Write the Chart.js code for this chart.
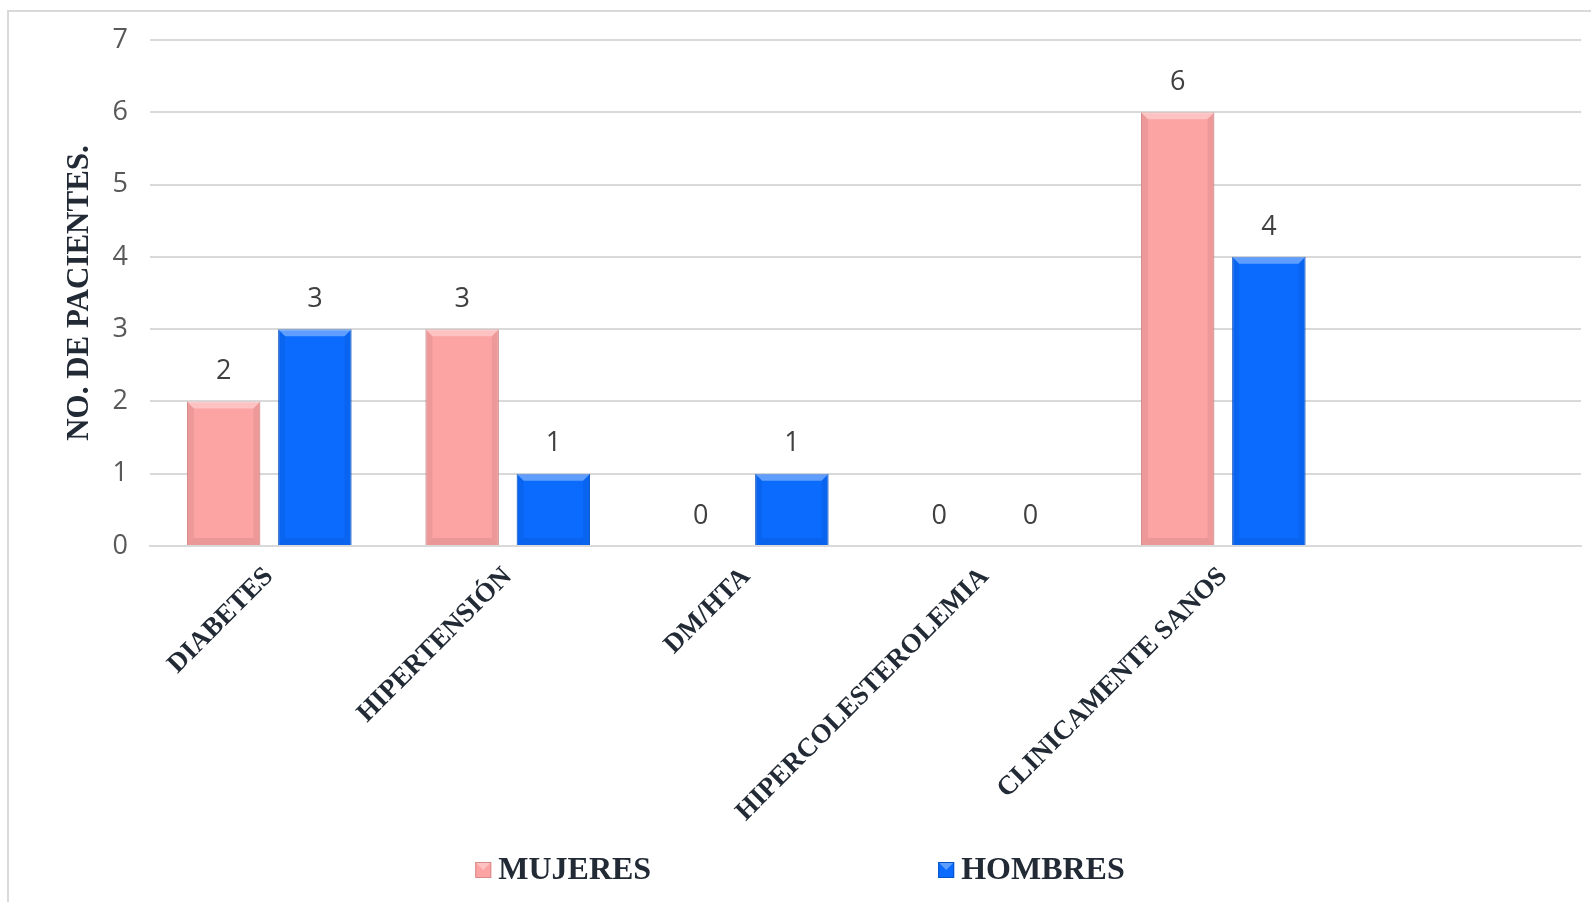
<!DOCTYPE html>
<html>
<head>
<meta charset="utf-8">
<script src="https://cdn.jsdelivr.net/npm/chart.js@4"></script>
<style>
  html, body { margin: 0; padding: 0; background: #fff; overflow: hidden; }
  #frame { position: absolute; left: 7px; top: 10px; width: 1600px; height: 900px;
           border-left: 2px solid #d9d9d9; border-top: 2px solid #d9d9d9; }
  #wrap { position: absolute; left: 0; top: 0; width: 1591px; height: 902px; }
</style>
</head>
<body>
<div id="frame"></div>
<div id="wrap"><canvas id="chart"></canvas></div>
<script>
// chart values
const categories = ["DIABETES", "HIPERTENSIÓN", "DM/HTA", "HIPERCOLESTEROLEMIA", "CLINICAMENTE SANOS", ""];
const mujeres = [2, 3, 0, 0, 6, null];
const hombres = [3, 1, 1, 0, 4, null];
const seriesNames = ["MUJERES", "HOMBRES"];
const yMin = 0, yMax = 7, yStep = 1;
const yTitle = "NO. DE PACIENTES.";

const pink = "#FCA3A3";
const blue = "#0A6BFE";
const dark = "#222A35";

Chart.defaults.maintainAspectRatio = false;

// little bevel on each bar, like the office 3D style
const bevelPlugin = {
    id: "bevel",
    afterDatasetsDraw(chart) {
        const ctx = chart.ctx;
        chart.data.datasets.forEach((ds, i) => {
            chart.getDatasetMeta(i).data.forEach((bar) => {
                const h = bar.base - bar.y;
                if (!(h > 1)) return;
                const l = bar.x - bar.width / 2, r = bar.x + bar.width / 2;
                const t = bar.y, b = bar.base, e = Math.min(7, h / 2);
                ctx.save();
                // top light
                ctx.fillStyle = "rgba(255,255,255,0.35)";
                ctx.beginPath();
                ctx.moveTo(l, t); ctx.lineTo(r, t); ctx.lineTo(r - e, t + e); ctx.lineTo(l + e, t + e);
                ctx.closePath(); ctx.fill();
                // bottom dark
                ctx.fillStyle = "rgba(0,0,0,0.07)";
                ctx.beginPath();
                ctx.moveTo(l, b); ctx.lineTo(r, b); ctx.lineTo(r - e, b - e); ctx.lineTo(l + e, b - e);
                ctx.closePath(); ctx.fill();
                // sides
                ctx.fillStyle = "rgba(0,0,0,0.06)";
                ctx.beginPath();
                ctx.moveTo(l, t); ctx.lineTo(l + e, t + e); ctx.lineTo(l + e, b - e); ctx.lineTo(l, b);
                ctx.closePath(); ctx.fill();
                ctx.beginPath();
                ctx.moveTo(r, t); ctx.lineTo(r - e, t + e); ctx.lineTo(r - e, b - e); ctx.lineTo(r, b);
                ctx.closePath(); ctx.fill();
                ctx.restore();
            });
        });
    }
};

// value labels above the bars
const valuePlugin = {
    id: "values",
    afterDatasetsDraw(chart) {
        const ctx = chart.ctx;
        ctx.save();
        ctx.font = "27px 'Open Sans'";
        ctx.fillStyle = "#404040";
        ctx.textAlign = "center";
        ctx.textBaseline = "middle";
        chart.data.datasets.forEach((ds, i) => {
            chart.getDatasetMeta(i).data.forEach((bar, j) => {
                const v = ds.data[j];
                if (v === null || v === undefined) return;
                ctx.fillText(String(v), bar.x, bar.y - 30);
            });
        });
        ctx.restore();
    }
};

// legend drawn by hand, the two items sit far apart
const legendPlugin = {
    id: "farLegend",
    afterDraw(chart) {
        const ctx = chart.ctx;
        const box = 16, gapText = 7, gapItems = 287;
        const y = 870;
        ctx.save();
        ctx.font = "bold 32px 'Liberation Serif'";
        const widths = chart.data.datasets.map((ds) => box + gapText + ctx.measureText(ds.label).width);
        const total = widths[0] + gapItems + widths[1];
        let x = 800 - total / 2;
        chart.data.datasets.forEach((ds, i) => {
            ctx.fillStyle = ds.backgroundColor;
            ctx.fillRect(x, y - box / 2, box, box);
            ctx.fillStyle = "rgba(255,255,255,0.35)";
            ctx.beginPath();
            ctx.moveTo(x, y - box / 2); ctx.lineTo(x + box, y - box / 2);
            ctx.lineTo(x + box / 2, y); ctx.closePath(); ctx.fill();
            ctx.strokeStyle = ds.borderColor;
            ctx.lineWidth = 1;
            ctx.strokeRect(x + 0.5, y - box / 2 + 0.5, box - 1, box - 1);
            ctx.fillStyle = dark;
            ctx.textAlign = "left";
            ctx.textBaseline = "middle";
            ctx.fillText(ds.label, x + box + gapText, y + 1);
            x += widths[i] + gapItems;
        });
        ctx.restore();
    }
};

new Chart(document.getElementById("chart").getContext("2d"), {
    type: "bar",
    data: {
        labels: categories,
        datasets: [
            {
                label: seriesNames[0],
                data: mujeres,
                backgroundColor: pink,
                borderColor: "#D98A8A",
                borderWidth: 1,
                categoryPercentage: 0.765,
                barPercentage: 0.805,
            },
            {
                label: seriesNames[1],
                data: hombres,
                backgroundColor: blue,
                borderColor: "#0552C9",
                borderWidth: 1,
                categoryPercentage: 0.765,
                barPercentage: 0.805,
            },
        ],
    },
    options: {
        responsive: true,
        animation: false,
        layout: { padding: { top: 40, left: 0, right: 10, bottom: 0 } },
        plugins: {
            legend: { display: false },
            tooltip: { enabled: false },
        },
        scales: {
            x: {
                grid: { display: false, drawTicks: false },
                border: { display: true, color: "#d9d9d9", width: 2 },
                ticks: {
                    color: dark,
                    font: { family: "'Liberation Serif'", size: 27, weight: "bold" },
                    maxRotation: 45,
                    minRotation: 45,
                    autoSkip: false,
                    padding: 15,
                },
                afterFit(scale) { scale.height = 356; },
            },
            y: {
                min: yMin,
                max: yMax,
                grid: { color: "#d9d9d9", lineWidth: 2, drawTicks: false },
                border: { display: false },
                ticks: {
                    stepSize: yStep,
                    color: "#595959",
                    font: { family: "'Open Sans'", size: 27 },
                    padding: 22,
                },
                title: {
                    display: true,
                    text: yTitle,
                    color: dark,
                    font: { family: "'Liberation Serif'", size: 31, weight: "bold" },
                    padding: { top: 61, bottom: 0 },
                },
                afterFit(scale) { scale.width = 150; },
            },
        },
    },
    plugins: [bevelPlugin, valuePlugin, legendPlugin],
});
</script>
</body>
</html>
